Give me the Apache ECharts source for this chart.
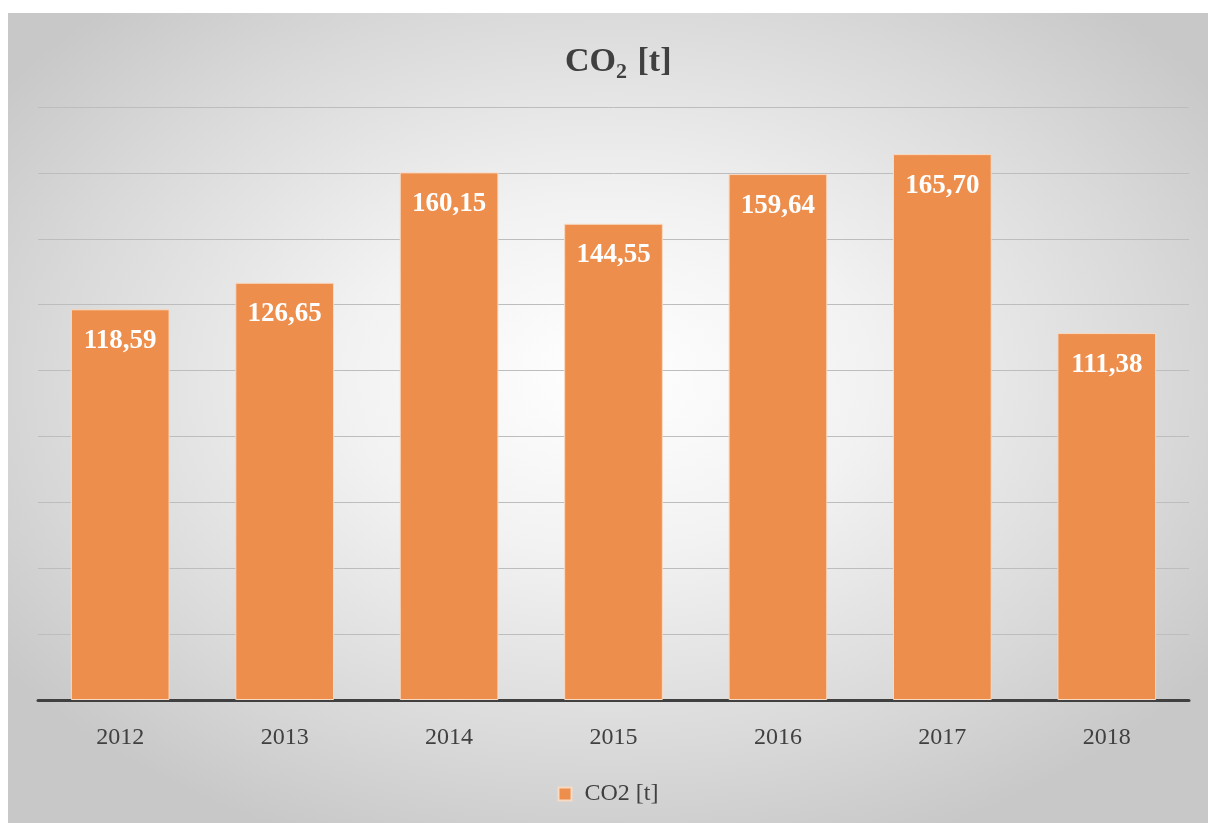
<!DOCTYPE html>
<html>
<head>
<meta charset="utf-8">
<script src="https://cdn.jsdelivr.net/npm/echarts@6/dist/echarts.min.js"></script>
<style>
  html, body { margin: 0; padding: 0; background: #fff; }
  #chart {
    position: absolute;
    left: 8px;
    top: 13px;
    width: 1200px;
    height: 810px;
    background: radial-gradient(ellipse 62% 62% at 50% 45%, #ffffff 0%, #f2f2f2 35%, #d9d9d9 75%, #c8c8c8 100%);
  }
</style>
</head>
<body>
<div id="chart"></div>
<script>
const years = ['2012', '2013', '2014', '2015', '2016', '2017', '2018']
const co2 = [118.59, 126.65, 160.15, 144.55, 159.64, 165.70, 111.38]
const seriesName = 'CO2 [t]'

const serif = '"Liberation Serif", "Times New Roman", serif'
const chart = echarts.init(document.getElementById('chart'))
chart.setOption({
  backgroundColor: 'transparent',
  title: {
    text: '{b|CO}{s|2}{b| [t]}',
    left: 557,
    top: 28,
    padding: 0,
    textStyle: {
      rich: {
        b: { fontFamily: serif, fontWeight: 'bold', fontSize: 34, color: '#404040' },
        s: { fontFamily: serif, fontWeight: 'bold', fontSize: 22, color: '#404040', verticalAlign: 'bottom', padding: [20, 2, 0, 0] }
      }
    }
  },
  legend: {
    data: [seriesName],
    bottom: 12,
    left: 'center',
    icon: 'rect',
    itemWidth: 13,
    itemHeight: 13,
    itemGap: 10,
    textStyle: { fontFamily: serif, fontSize: 24, color: '#404040', padding: [0, 0, 0, 8] }
  },
  grid: {
    left: 30,
    right: 19,
    top: 94,
    bottom: 123
  },
  xAxis: {
    type: 'category',
    data: years,
    axisLine: { show: true, lineStyle: { color: '#404040', width: 3 } },
    axisTick: { show: false },
    axisLabel: { fontFamily: serif, fontSize: 24, color: '#404040', margin: 26 }
  },
  yAxis: {
    type: 'value',
    min: 0,
    max: 180,
    interval: 20,
    axisLine: { show: false },
    axisTick: { show: false },
    axisLabel: { show: false },
    splitLine: { lineStyle: { color: '#bdbdbd', width: 1 } }
  },
  series: [{
    name: seriesName,
    type: 'bar',
    data: co2,
    barWidth: '60%',
    itemStyle: { color: '#ED8E4C', borderColor: '#F8D9C2', borderWidth: 1 },
    label: {
      show: true,
      position: 'insideTop',
      distance: 18,
      color: '#fff',
      fontFamily: serif,
      fontWeight: 'bold',
      fontSize: 27,
      formatter: p => p.value.toFixed(2).replace('.', ',')
    }
  }]
})
</script>
</body>
</html>
